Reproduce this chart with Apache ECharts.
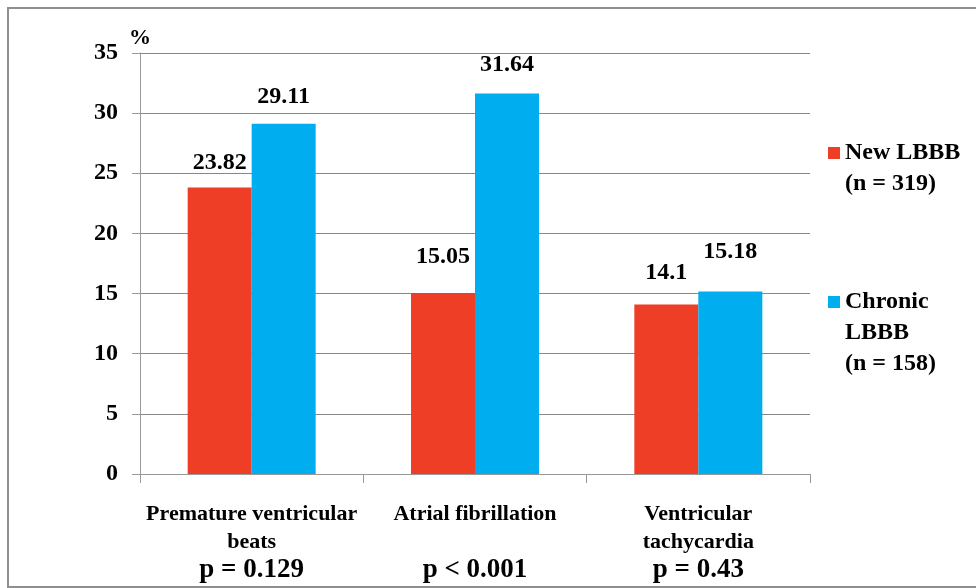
<!DOCTYPE html>
<html>
<head>
<meta charset="utf-8">
<style>
  html, body { margin: 0; padding: 0; background: #fff; }
  #chart { width: 976px; height: 588px; }
</style>
<script src="https://cdn.jsdelivr.net/npm/echarts@6/dist/echarts.min.js"></script>
</head>
<body>
<div id="chart"></div>
<script>
// Arrhythmia prevalence (%) by LBBB group
const categories = [
  ['Premature ventricular', 'beats'],
  ['Atrial fibrillation', ' '],
  ['Ventricular', 'tachycardia']
];
const pValues = ['p = 0.129', 'p < 0.001', 'p = 0.43'];
const newLBBB = [23.82, 15.05, 14.1];
const chronicLBBB = [29.11, 31.64, 15.18];
const seriesNames = ['New LBBB', 'Chronic LBBB'];
const legendLines = {
  'New LBBB': ['New LBBB', '(n = 319)'],
  'Chronic LBBB': ['Chronic', 'LBBB', '(n = 158)']
};
const yTicks = { min: 0, max: 35, interval: 5 };

// label lift above each bar (px), per series
const newLabelGap = [13, 24, 20];
const chronicLabelGap = [15, 17, 28];

const FONT = "'Liberation Serif', 'Times New Roman', serif";
const RED = '#EF3E26';
const BLUE = '#00AEEF';
const GRID_GRAY = '#888888';
const LEGEND_LINE = 31;

function withLabels(values, gaps) {
  return values.map((v, i) => ({ value: v, label: { distance: gaps[i] } }));
}

// legend text is centred on its swatch; pad the top with blank lines so
// the swatch sits beside the first line
function legendText(name) {
  const lines = legendLines[name];
  const pad = new Array(lines.length - 1).fill(' ');
  return pad.concat(lines).join('\n');
}

function legendBlock(name, swatchCenterY) {
  const total = legendLines[name].length * 2 - 1;
  return {
    orient: 'vertical',
    left: 828,
    top: swatchCenterY - total * LEGEND_LINE / 2,
    padding: 0,
    itemWidth: 12,
    itemHeight: 12,
    icon: 'rect',
    data: [name],
    formatter: legendText,
    textStyle: { fontFamily: FONT, fontWeight: 'bold', fontSize: 24, lineHeight: LEGEND_LINE, color: '#000' }
  };
}

const chart = echarts.init(document.getElementById('chart'));
chart.setOption({
  animation: false,
  backgroundColor: '#ffffff',
  graphic: [{
    type: 'rect',
    silent: true,
    shape: { x: 8, y: 8, width: 1000, height: 579 },
    style: { fill: 'none', stroke: '#8f8f8f', lineWidth: 2 }
  }],
  grid: { left: 140, right: 166, top: 53, bottom: 114 },
  legend: [legendBlock(seriesNames[0], 153), legendBlock(seriesNames[1], 302)],
  xAxis: {
    type: 'category',
    data: categories.map(c => c.join('\n')),
    axisLine: { lineStyle: { color: '#999999', width: 1 } },
    axisTick: { show: true, length: 9, alignWithLabel: false, lineStyle: { color: '#999999' } },
    axisLabel: {
      interval: 0,
      margin: 26,
      formatter: (val, idx) => {
        const lines = categories[idx].map(l => '{n|' + l + '}');
        return lines.join('\n') + '\n{p|' + pValues[idx] + '}';
      },
      rich: {
        n: { fontFamily: FONT, fontWeight: 'bold', fontSize: 22, lineHeight: 28, color: '#000' },
        p: { fontFamily: FONT, fontWeight: 'bold', fontSize: 27, lineHeight: 28, color: '#000' }
      }
    }
  },
  yAxis: {
    type: 'value',
    min: yTicks.min,
    max: yTicks.max,
    interval: yTicks.interval,
    name: '%',
    nameLocation: 'end',
    nameGap: 4,
    nameTextStyle: { fontFamily: FONT, fontWeight: 'bold', fontSize: 22, color: '#000', align: 'center' },
    axisLine: { show: true, lineStyle: { color: '#999999', width: 1 } },
    axisTick: { show: true, length: 8, lineStyle: { color: '#999999' } },
    axisLabel: { margin: 22, fontFamily: FONT, fontWeight: 'bold', fontSize: 24, color: '#000' },
    splitLine: { show: true, lineStyle: { color: GRID_GRAY, width: 1 } }
  },
  series: [{
    name: seriesNames[0],
    type: 'bar',
    barWidth: 64,
    barGap: '0%',
    itemStyle: { color: RED },
    label: { show: true, position: 'top', fontFamily: FONT, fontWeight: 'bold', fontSize: 24, color: '#000' },
    data: withLabels(newLBBB, newLabelGap)
  }, {
    name: seriesNames[1],
    type: 'bar',
    barWidth: 64,
    barGap: '0%',
    itemStyle: { color: BLUE },
    label: { show: true, position: 'top', fontFamily: FONT, fontWeight: 'bold', fontSize: 24, color: '#000' },
    data: withLabels(chronicLBBB, chronicLabelGap)
  }]
});
</script>
</body>
</html>
